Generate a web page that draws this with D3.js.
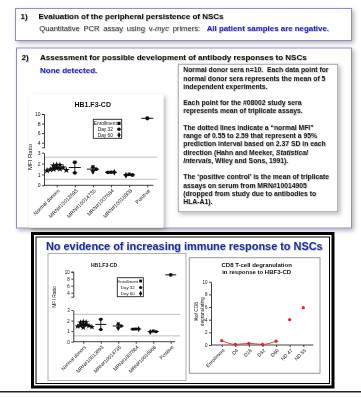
<!DOCTYPE html>
<html><head><meta charset="utf-8">
<script src="https://cdn.jsdelivr.net/npm/d3@7"></script>
<style>html,body{margin:0;padding:0;background:#fff;} svg{display:block;font-family:"Liberation Sans",Arial,sans-serif;} text{white-space:pre;}</style>
</head><body><svg id="s" width="361" height="397"></svg>
<script>
// ---------- DATA ----------
const mfiCategories = ["Normal donors","MRN#10013693","MRN#10014735","MRN#1007684","MRN#10016808","Positive"];
const normalDonorMFI = [1.88,1.85,1.82,1.62,1.58,1.52,1.5,1.45,1.4,1.35];
const mrn10013693MFI = [2.12,1.15];
const mrn10014735MFI = [1.7,1.48,1.28];
const mrn1007684MFI = [1.2,1.19,1.2];
const mrn10016808MFI = [1.02,0.95,0.92];
const positiveMFI = [9.1];
const mfiTimepoints = ["Enrollment","Day 32","Day 60"];
const mfiNormalRange = [0.55,2.59];
const mfiLowerTicks = [0,1,2,3];
const mfiUpperTicks = [4,6,8,10];
const cd8Categories = ["Enrollment","D4","D18","D32","D60","ND 47","ND 55"];
const cd8Values = [0.7,0.1,0.25,0.1,0.6,4.0,5.9];
const cd8LinkedCount = 5;
const cd8Ticks = [0,2,4,6,8,10];
const noteLines = [
 "Normal donor sera n=10.  Each data point for",
 "normal donor sera represents the mean of 5",
 "independent experiments.",
 "",
 "Each point for the #08002 study sera",
 "represents mean of triplicate assays.",
 "",
 "The dotted lines indicate a \u201cnormal MFI\u201d",
 "range of 0.55 to 2.59 that represent a 95%",
 "prediction interval based on 2.37 SD in each",
 "direction (Hahn and Meeker, *Statistical*",
 "*Intervals*, Wiley and Sons, 1991).",
 "",
 "The \u2018positive control\u2019 is the mean of triplicate",
 "assays on serum from MRN#10014905",
 "(dropped from study due to antibodies to",
 "HLA-A1)."
];
const mfiGroups = [normalDonorMFI, mrn10013693MFI, mrn10014735MFI, mrn1007684MFI, mrn10016808MFI, positiveMFI];

// ---------- SETUP ----------
const root = d3.select("#s");
const defs = root.append("defs");
const f0 = defs.append("filter").attr("id","soft").attr("x",0).attr("y",0).attr("width","100%").attr("height","100%").attr("filterUnits","userSpaceOnUse");
f0.append("feGaussianBlur").attr("stdDeviation",0.3);
const f1 = defs.append("filter").attr("id","bsh").attr("x","-10%").attr("y","-10%").attr("width","130%").attr("height","130%");
f1.append("feDropShadow").attr("dx",2).attr("dy",2).attr("stdDeviation",2).attr("flood-color","#000").attr("flood-opacity",0.3);
const f2 = defs.append("filter").attr("id","tsh").attr("x","-5%").attr("y","-30%").attr("width","115%").attr("height","170%");
f2.append("feDropShadow").attr("dx",0.7).attr("dy",0.7).attr("stdDeviation",0.6).attr("flood-color","#000").attr("flood-opacity",0.3);
root.append("rect").attr("width",361).attr("height",397).attr("fill","#fff");
const svg = root.append("g").attr("filter","url(#soft)");

function fit(sel, w){ const n = sel.node(); const fs = parseFloat(sel.attr("font-size")); const cur = n.getComputedTextLength(); sel.attr("font-size", fs*w/cur); return fs*w/cur; }

// ---------- SECTION 1 ----------
const boxStroke = "#8e8ed6";
svg.append("rect").attr("x",15.5).attr("y",8.5).attr("width",336).attr("height",32).attr("fill","#fff").attr("stroke",boxStroke).attr("filter","url(#bsh)");
svg.append("rect").attr("x",16.5).attr("y",48).attr("width",335).attr("height",180).attr("fill","#fff").attr("stroke",boxStroke).attr("filter","url(#bsh)");

const t2 = svg.append("text").attr("x",40).attr("y",59.5).attr("font-size",8).attr("font-weight","bold").attr("fill","#111").attr("filter","url(#tsh)").text("Assessment for possible development of antibody responses to NSCs");
const hfs = fit(t2, 267);
svg.append("text").attr("x",21.5).attr("y",59.5).attr("font-size",hfs).attr("font-weight","bold").attr("fill","#111").attr("filter","url(#tsh)").text("2)");
svg.append("text").attr("x",20.5).attr("y",18.5).attr("font-size",hfs).attr("font-weight","bold").attr("fill","#111").attr("filter","url(#tsh)").text("1)");
svg.append("text").attr("x",38.5).attr("y",18.5).attr("font-size",hfs).attr("font-weight","bold").attr("fill","#111").attr("filter","url(#tsh)").text("Evaluation of the peripheral persistence of NSCs");
const q = svg.append("text").attr("x",39.3).attr("y",30.5).attr("font-size",7.6).attr("fill","#333").attr("word-spacing",1.6).attr("filter","url(#tsh)");
q.append("tspan").text("Quantitative PCR assay using v-");
q.append("tspan").attr("font-style","italic").text("myc");
q.append("tspan").text(" primers:");
svg.append("text").attr("x",329).attr("y",30.5).attr("text-anchor","end").attr("font-size",7.9).attr("font-weight","bold").attr("fill","#2424c4").attr("filter","url(#tsh)").text("All patient samples are negative.");
svg.append("text").attr("x",40).attr("y",73.3).attr("font-size",hfs).attr("font-weight","bold").attr("fill","#2424c4").attr("filter","url(#tsh)").text("None detected.");

// note box
svg.append("rect").attr("x",178.3).attr("y",64.3).attr("width",159.4).attr("height",147.4).attr("fill","#fff").attr("stroke","#a8a8a8").attr("filter","url(#bsh)");
const probe = svg.append("text").attr("x",183.3).attr("y",-20).attr("font-size",7).attr("font-weight","bold").text(noteLines[0]);
const nfs = fit(probe, 145.7); probe.remove();
noteLines.forEach((ln,i)=>{
  if(!ln) return;
  const t = svg.append("text").attr("x",183.3).attr("y",72.3+i*8.23).attr("font-size",nfs).attr("font-weight","bold").attr("fill","#1e1e1e").attr("filter","url(#tsh)");
  ln.split("*").forEach((part,k)=>{ if(part) t.append("tspan").attr("font-style", k%2 ? "italic" : null).text(part); });
});

// upper chart panel
svg.append("rect").attr("x",29.3).attr("y",94.3).attr("width",134).attr("height",133.4).attr("fill","#fff").attr("filter","url(#bsh)");

// ---------- MFI chart ----------
function swarm(ys, r){
  const order = d3.range(ys.length).sort((a,b)=>ys[a]-ys[b]);
  const pos = [], off = new Array(ys.length);
  const step = r*1.7, minD = r*1.6;
  order.forEach(i=>{
    for(let k=0;k<30;k++){
      const o = k===0 ? 0 : (k%2 ? 1 : -1)*Math.ceil(k/2)*step;
      if(pos.every(p=>Math.hypot(p[0]-o,p[1]-ys[i])>=minD)){ off[i]=o; pos.push([o,ys[i]]); break; }
    }
  });
  return off;
}
const studySymbols = [d3.symbolSquare, d3.symbolCircle, d3.symbolDiamond];

function styleAxis(ax, fs){
  ax.attr("font-family",null).attr("font-size",fs);
  ax.selectAll("path,line").attr("stroke","#111").attr("stroke-width",0.8);
  ax.selectAll("text").attr("fill","#111");
}

function drawMFI(g, L){
  const yLow = d3.scaleLinear().domain([0,3]).range([L.y0, L.y3]);
  const yUp0 = d3.scaleLinear().domain([4,10]).range([L.y4, L.y10]);
  const yUp = d3.scaleLinear().domain([yUp0.invert(L.upBottomY),10]).range([L.upBottomY, L.y10]);
  const yv = v => v <= 3 ? yLow(v) : yUp(v);
  const x = d3.scalePoint().domain(mfiCategories).range([L.xFirst, L.xLast]);

  g.append("text").attr("x",L.title.x).attr("y",L.title.y).attr("text-anchor","middle").attr("font-size",L.title.size).attr("font-weight","bold").attr("fill","#111").text("HB1.F3-CD");

  mfiNormalRange.forEach(v=>{
    g.append("line").attr("x1",L.axisX).attr("x2",L.refEnd).attr("y1",yLow(v)).attr("y2",yLow(v)).attr("stroke","#b0b0b0").attr("stroke-width",0.8);
  });

  const a1 = g.append("g").attr("transform",`translate(${L.axisX},0)`).call(d3.axisLeft(yLow).tickValues(mfiLowerTicks).tickSize(L.tick).tickSizeOuter(0).tickPadding(1.5).tickFormat(d3.format("d")));
  styleAxis(a1, L.tickFont);
  const a2 = g.append("g").attr("transform",`translate(${L.axisX},0)`).call(d3.axisLeft(yUp).tickValues(mfiUpperTicks).tickSize(L.tick).tickSizeOuter(L.tick).tickPadding(1.5).tickFormat(d3.format("d")));
  styleAxis(a2, L.tickFont);

  const ax = g.append("g").attr("transform",`translate(0,${L.y0})`).call(d3.axisBottom(x).tickSize(L.tick).tickSizeOuter(0));
  ax.select(".domain").remove();
  styleAxis(ax, L.labelFont);
  ax.selectAll("text").attr("x",0).attr("y",0).attr("dy","0.35em").attr("text-anchor","end").attr("transform",`translate(1.5,${L.tick+2.5}) rotate(-45)`);
  g.append("line").attr("x1",L.axisX).attr("x2",L.xAxisEnd).attr("y1",L.y0).attr("y2",L.y0).attr("stroke","#111").attr("stroke-width",0.8);

  g.append("text").attr("transform",`translate(${L.yLabel.x},${L.yLabel.y}) rotate(-90)`).attr("text-anchor","middle").attr("font-size",L.yLabel.size).attr("fill","#111").text("MFI Ratio");

  mfiGroups.forEach((vals, gi)=>{
    const cx = x(mfiCategories[gi]);
    const ys = vals.map(yv);
    const offs = swarm(ys, L.r);
    const m = d3.mean(vals);
    if(vals.length > 1){
      const sem = d3.deviation(vals)/Math.sqrt(vals.length);
      const yt = yv(m+sem), yb = yv(m-sem);
      g.append("line").attr("x1",cx).attr("x2",cx).attr("y1",yt).attr("y2",yb).attr("stroke","#111").attr("stroke-width",0.9);
      [yt,yb].forEach(yy=>g.append("line").attr("x1",cx-L.capHalf).attr("x2",cx+L.capHalf).attr("y1",yy).attr("y2",yy).attr("stroke","#111").attr("stroke-width",0.9));
    }
    vals.forEach((v,i)=>{
      let type = d3.symbolCircle, size = Math.PI*L.r*L.r;
      if(gi===0){ type = d3.symbolStar; size *= 1.3; }
      else if(gi < mfiGroups.length-1){ type = studySymbols[i % 3]; if(type===d3.symbolDiamond) size*=1.1; if(type===d3.symbolSquare) size*=0.95; }
      else { size *= 1.25; }
      g.append("path").attr("d", d3.symbol().type(type).size(size)()).attr("transform",`translate(${cx+offs[i]},${ys[i]})`).attr("fill","#111");
    });
    g.append("line").attr("x1",cx-L.meanHalf).attr("x2",cx+L.meanHalf).attr("y1",yv(m)).attr("y2",yv(m)).attr("stroke","#111").attr("stroke-width",1);
  });

  const lg = L.legend;
  g.append("rect").attr("x",lg.x).attr("y",lg.y).attr("width",lg.w).attr("height",lg.h).attr("fill","#fff").attr("stroke","#222").attr("stroke-width",0.9);
  mfiTimepoints.forEach((tp,i)=>{
    g.append("text").attr("x",lg.textX).attr("y",lg.rows[i]).attr("dy","0.35em").attr("text-anchor","middle").attr("font-size",lg.font).attr("fill","#111").text(tp);
    g.append("path").attr("d", d3.symbol().type(studySymbols[i]).size(Math.PI*L.r*L.r*0.9)()).attr("transform",`translate(${lg.symX},${lg.rows[i]})`).attr("fill","#111");
  });
}

drawMFI(svg.append("g"), {
  axisX:44, y0:185.3, y3:152.7, y4:142.7, y10:114, upBottomY:147.3,
  xFirst:56.7, xLast:147.3, xAxisEnd:153.5, refEnd:157, tick:2,
  tickFont:5, labelFont:5.3,
  title:{x:92.7,y:106.5,size:7}, yLabel:{x:31.5,y:157,size:6},
  legend:{x:93.3,y:119.3,w:28.4,h:19,rows:[123.4,129.2,135],textX:105.3,symX:119,font:4.8},
  r:1.9, meanHalf:6, capHalf:2.5
});

// ---------- SECTION 3 ----------
svg.append("rect").attr("x",32.5).attr("y",233.5).attr("width",300.5).attr("height",153.5).attr("fill","#fff").attr("stroke","#000").attr("stroke-width",3);
svg.append("rect").attr("x",36).attr("y",237).attr("width",293.5).attr("height",146.5).attr("fill","none").attr("stroke","#000").attr("stroke-width",1);
const tt = svg.append("text").attr("x",46).attr("y",250).attr("font-size",10).attr("font-weight","bold").attr("fill","#1f2f9f").attr("filter","url(#tsh)").text("No evidence of increasing immune response to NSCs");
fit(tt, 277);
svg.append("line").attr("x1",0).attr("x2",361).attr("y1",391.7).attr("y2",391.7).attr("stroke","#222").attr("stroke-width",1.5);

svg.append("rect").attr("x",48).attr("y",253.5).attr("width",138).attr("height",127).attr("fill","#fff").attr("stroke","#b0b0b0").attr("stroke-width",1);
svg.append("rect").attr("x",189.3).attr("y",257.7).attr("width",130.7).attr("height",115.6).attr("fill","#fff").attr("stroke","#9a9a9a").attr("stroke-width",1);

drawMFI(svg.append("g"), {
  axisX:73.3, y0:341.7, y3:310, y4:292.7, y10:271.7, upBottomY:296.7,
  xFirst:83.3, xLast:170.7, xAxisEnd:175, refEnd:180, tick:2,
  tickFont:4.5, labelFont:5,
  title:{x:104,y:267,size:5}, yLabel:{x:56,y:297,size:5},
  legend:{x:117.3,y:277.7,w:26,h:19,rows:[281,287.5,293.5],textX:127.8,symX:140.6,font:4.4},
  r:1.7, meanHalf:5.5, capHalf:2.2
});

// ---------- CD8 chart ----------
(function(){
  const g = svg.append("g");
  const x = d3.scalePoint().domain(cd8Categories).range([221.7,303.3]);
  const y = d3.scaleLinear().domain([0,10]).range([345,281.7]);
  const red = "#e8211c";
  g.append("text").attr("x",256.7).attr("y",267.3).attr("text-anchor","middle").attr("font-size",6).attr("font-weight","bold").attr("fill","#111").text("CD8 T-cell degranulation");
  g.append("text").attr("x",256.7).attr("y",273.6).attr("text-anchor","middle").attr("font-size",6).attr("font-weight","bold").attr("fill","#111").text("in response to HBF3-CD");
  const ay = g.append("g").attr("transform","translate(211,0)").call(d3.axisLeft(y).tickValues(cd8Ticks).tickSize(2).tickSizeOuter(0).tickPadding(1.5));
  styleAxis(ay, 4.5);
  const ax = g.append("g").attr("transform","translate(0,345)").call(d3.axisBottom(x).tickSize(2).tickSizeOuter(0));
  ax.select(".domain").remove();
  styleAxis(ax, 5);
  ax.selectAll("text").attr("x",0).attr("y",0).attr("dy","0.35em").attr("text-anchor","end").attr("transform","translate(1.5,4.5) rotate(-45)");
  g.append("line").attr("x1",211).attr("x2",313.3).attr("y1",345).attr("y2",345).attr("stroke","#111").attr("stroke-width",0.8);
  const yl = g.append("text").attr("transform","translate(199,311.7) rotate(-90)").attr("text-anchor","middle").attr("font-size",4.8).attr("fill","#111");
  yl.append("tspan").attr("x",0).attr("dy","-0.2em").text("%of CD8");
  yl.append("tspan").attr("x",0).attr("dy","1.15em").text("degranulating");
  const line = d3.line().x((d,i)=>x(cd8Categories[i])).y(d=>y(d)).curve(d3.curveMonotoneX);
  g.append("path").attr("d", line(cd8Values.slice(0,cd8LinkedCount))).attr("fill","none").attr("stroke",red).attr("stroke-width",0.9);
  cd8Values.forEach((v,i)=>{
    g.append("circle").attr("cx",x(cd8Categories[i])).attr("cy",y(v)).attr("r",1.6).attr("fill",red);
  });
})();
</script></body></html>
